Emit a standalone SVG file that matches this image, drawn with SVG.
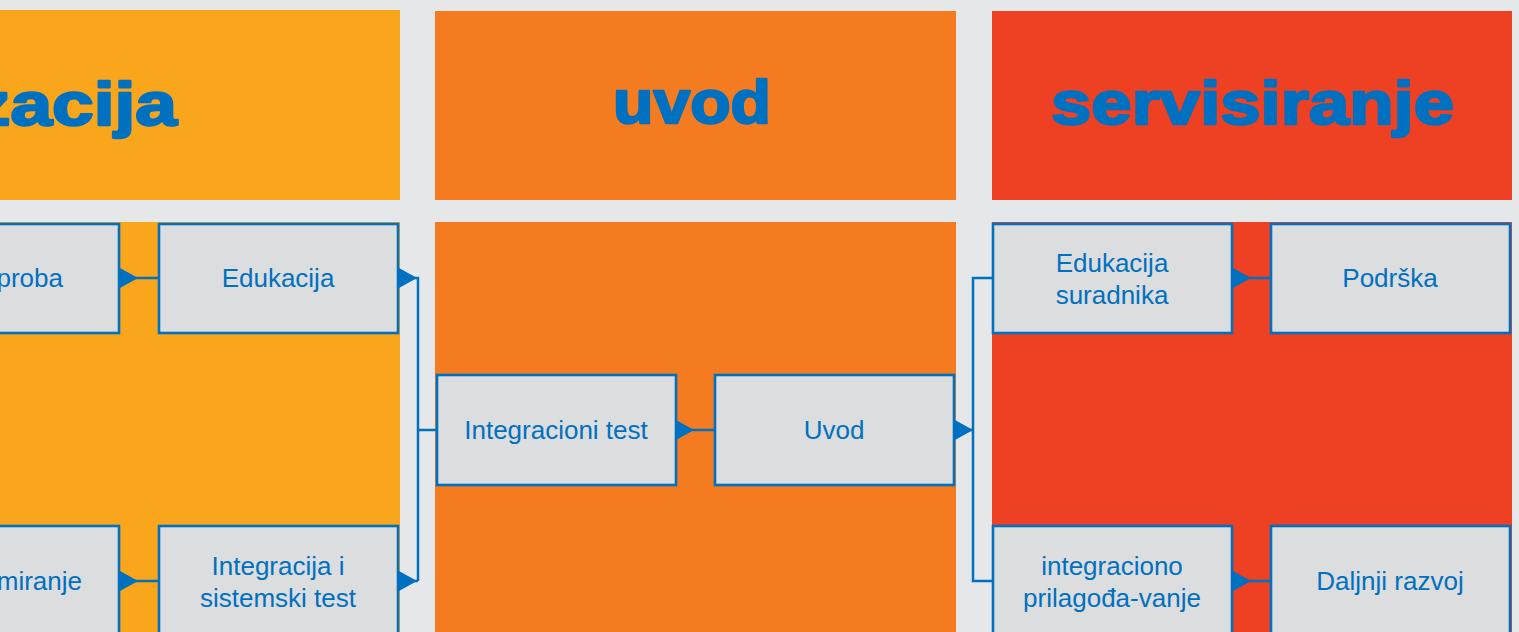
<svg xmlns="http://www.w3.org/2000/svg" width="1519" height="632" viewBox="0 0 1519 632">
<defs>
<style>
.bg{fill:#E6E7E8}
.yel{fill:#F9A61C}
.ora{fill:#F47B20}
.red{fill:#EE4023}
.box{fill:#DCDDDF;stroke:#0070C0;stroke-width:2.6}
.hd{font-family:"Liberation Sans",Arial,sans-serif;font-weight:bold;font-size:62px;fill:#0070C0;stroke:#0070C0;stroke-width:2.4;stroke-linejoin:round}
.lb{font-family:"Liberation Sans",Arial,sans-serif;font-size:26px;fill:#0070C0;text-anchor:middle}
.cn{fill:none;stroke:#0070C0;stroke-width:2.5}
.ar{marker-start:url(#tri)}
</style>
<marker id="tri" markerUnits="userSpaceOnUse" markerWidth="18" markerHeight="20" refX="0" refY="10" orient="auto" viewBox="0 0 18 20">
<path d="M0,0 L18,10 L0,20 Z" fill="#0070C0"/>
</marker>
</defs>
<rect class="bg" x="0" y="0" width="1519" height="632"/>
<g id="col-realizacija">
<rect class="yel" x="0" y="10" width="400" height="190"/>
<rect class="yel" x="0" y="222" width="400" height="410"/>
<text class="hd" x="-27" y="125" textLength="204" lengthAdjust="spacingAndGlyphs">zacija</text>
</g>
<g id="col-uvod">
<rect class="ora" x="435" y="11" width="521" height="189"/>
<rect class="ora" x="435" y="222" width="521" height="410"/>
<text class="hd" x="613" y="123" textLength="158" lengthAdjust="spacingAndGlyphs">uvod</text>
</g>
<g id="col-servisiranje">
<rect class="red" x="992" y="11" width="520" height="189"/>
<rect class="red" x="992" y="222" width="520" height="410"/>
<text class="hd" x="1051" y="124" textLength="403" lengthAdjust="spacingAndGlyphs">servisiranje</text>
</g>
<g id="connectors">
<path class="cn ar" d="M120,278 H158"/>
<path class="cn ar" d="M120,581 H158"/>
<path class="cn ar" d="M399,278 H418 V581"/>
<path class="cn ar" d="M399,581 H418"/>
<path class="cn" d="M418,430 H436"/>
<path class="cn ar" d="M676,430 H715"/>
<path class="cn ar" d="M955,430 H973"/>
<path class="cn" d="M993,278 H973 V581 H993"/>
<path class="cn ar" d="M1233,278 H1271"/>
<path class="cn ar" d="M1233,581 H1271"/>
</g>
<g id="n-proba">
<rect class="box" x="-122" y="224" width="241" height="109"/>
<text class="lb" x="63" y="287" style="text-anchor:end">proba</text>
</g>
<g id="n-edukacija">
<rect class="box" x="159" y="224" width="239" height="109"/>
<text class="lb" x="278" y="287">Edukacija</text>
</g>
<g id="n-miranje">
<rect class="box" x="-122" y="526" width="241" height="120"/>
<text class="lb" x="82" y="590" style="text-anchor:end">miranje</text>
</g>
<g id="n-integracija">
<rect class="box" x="159" y="526" width="239" height="120"/>
<text class="lb" x="278" y="575">Integracija i</text>
<text class="lb" x="278" y="607">sistemski test</text>
</g>
<g id="n-integracioni-test">
<rect class="box" x="437" y="375" width="239" height="110"/>
<text class="lb" x="556" y="439">Integracioni test</text>
</g>
<g id="n-uvod">
<rect class="box" x="715" y="375" width="239" height="110"/>
<text class="lb" x="834" y="439">Uvod</text>
</g>
<g id="n-edukacija-suradnika">
<rect class="box" x="993" y="224" width="239" height="109"/>
<text class="lb" x="1112" y="272">Edukacija</text>
<text class="lb" x="1112" y="304">suradnika</text>
</g>
<g id="n-podrska">
<rect class="box" x="1271" y="224" width="239" height="109"/>
<text class="lb" x="1390" y="287">Podrška</text>
</g>
<g id="n-integraciono">
<rect class="box" x="993" y="526" width="239" height="120"/>
<text class="lb" x="1112" y="575">integraciono</text>
<text class="lb" x="1112" y="607">prilagođa-vanje</text>
</g>
<g id="n-daljnji-razvoj">
<rect class="box" x="1271" y="526" width="239" height="120"/>
<text class="lb" x="1390" y="590">Daljnji razvoj</text>
</g>
</svg>
